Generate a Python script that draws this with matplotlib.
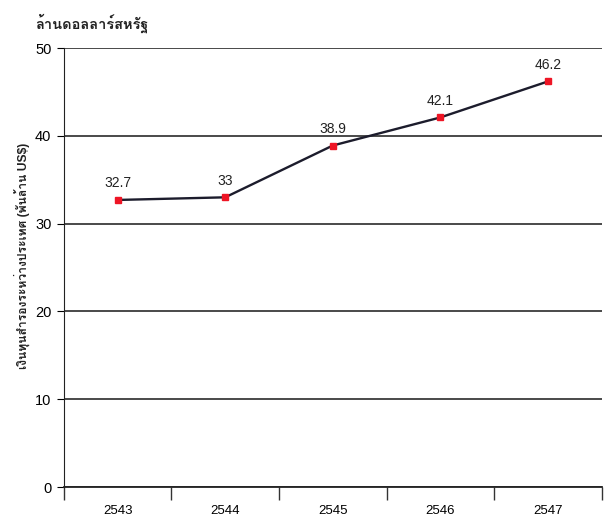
import matplotlib
matplotlib.use("Agg")
import matplotlib.pyplot as plt

years = ["2543", "2544", "2545", "2546", "2547"]
reserves = [32.7, 33.0, 38.9, 42.1, 46.2]
value_labels = ["32.7", "33", "38.9", "42.1", "46.2"]
unit_title = "ล้านดอลลาร์สหรัฐ"
y_title = "เงินทุนสำรองระหว่างประเทศ (พันล้าน US$)"

# Liberation Sans for digits, Loma picks up the Thai glyphs
plt.rcParams["font.family"] = ["Liberation Sans", "Loma", "DejaVu Sans"]

fig = plt.figure(figsize=(6.14, 5.17), dpi=100)
ax = fig.add_axes([0.104, 0.058, 0.876, 0.849])

x = list(range(len(years)))
ax.plot(x, reserves, color="#1c1c2c", lw=1.7, marker="s", ms=5,
        mfc="#ee1525", mec="#ee1525", zorder=3)
for xi, v, lab in zip(x, reserves, value_labels):
    ax.annotate(lab, (xi, v), xytext=(0, 7), textcoords="offset points",
                ha="center", va="bottom", fontsize=10, color="#222222")

ax.set_xlim(-0.5, len(years) - 0.5)
ax.set_ylim(0, 50)
ax.set_yticks(range(0, 51, 10))
ax.yaxis.grid(True, color="#3a3a3a", lw=1.3)
ax.set_axisbelow(True)

# category names sit between the tick marks
ax.set_xticks([i - 0.5 for i in range(len(years) + 1)])
ax.set_xticklabels([])
ax.set_xticks(x, minor=True)
ax.set_xticklabels(years, minor=True)
ax.tick_params(axis="x", which="minor", length=0, pad=13, labelsize=9.5)
ax.tick_params(axis="x", which="major", direction="out", length=9, width=1, color="#333333")
ax.tick_params(axis="y", direction="out", length=5, labelsize=10.5, pad=4)

ax.spines["right"].set_visible(False)
ax.spines["top"].set_visible(False)
ax.spines["left"].set_color("#222222")
ax.spines["bottom"].set_color("#222222")
ax.spines["bottom"].set_linewidth(1.3)

fig.text(0.057, 0.955, unit_title, fontsize=10.5, fontweight="bold",
         ha="left", va="center", color="#222222")
fig.text(0.035, 0.505, y_title, fontsize=8.7, fontweight="bold",
         rotation=90, ha="center", va="center", color="#222222")

plt.savefig("out.png", dpi=100)
